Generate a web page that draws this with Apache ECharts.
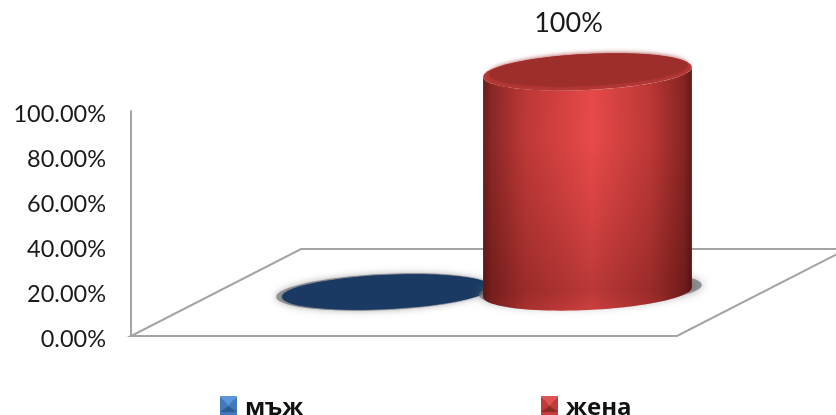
<!DOCTYPE html>
<html><head><meta charset="utf-8">
<style>html,body{margin:0;padding:0;background:#fff}#c{width:836px;height:415px}</style>
<script src="https://cdn.jsdelivr.net/npm/echarts@6/dist/echarts.min.js"></script>
</head><body><div id="c"></div>
<script>
const categories = ['мъж', 'жена'];
const maleValues = [[0, 0]];
const femaleValues = [[1, 100]];
const femaleLabel = '100%';

const LINE = '#a4a4a4';
const DEPTH = [170, -87];
const RY = 18, RATIO = 0.52, TILT = -2.7 * Math.PI / 180;

function ell(cx, cy, rx, ry, t) {
  return [cx + rx * Math.cos(t) * Math.cos(TILT) - ry * Math.sin(t) * Math.sin(TILT),
          cy + rx * Math.cos(t) * Math.sin(TILT) + ry * Math.sin(t) * Math.cos(TILT)];
}
function grad(stops, x2, y2) {
  return new echarts.graphic.LinearGradient(0, 0, x2, y2, stops.map(s => ({offset: s[0], color: s[1]})));
}
function makeCylinder(colors, labelText) {
  return function (params, api) {
    const base = api.coord([api.value(0), 0]);
    const top = api.coord([api.value(0), api.value(1)]);
    const rx = api.size([1, 0])[0] * RATIO;
    const cx = base[0], by = base[1], ty = top[1];
    const kids = [];
    const rot = -TILT;
    const disc = (x, y, a, b, style) => ({type: 'ellipse', x, y, rotation: rot,
      shape: {cx: 0, cy: 0, rx: a, ry: b}, style});
    if (by - ty > 1) {
      kids.push(disc(cx + 3, by - 2, rx + 7, RY - 1, {fill: 'rgba(110,110,110,0.7)', shadowBlur: 9, shadowColor: 'rgba(110,110,110,0.8)'}));
      const pts = [];
      for (let i = 0; i <= 48; i++) pts.push(ell(cx, by, rx, RY, Math.PI - Math.PI * i / 48));
      for (let i = 0; i <= 48; i++) pts.push(ell(cx, ty, rx, RY, Math.PI * i / 48));
      kids.push({type: 'polygon', shape: {points: pts}, style: {fill: grad(colors.body, 1, 0)}});
      kids.push({type: 'polygon', shape: {points: pts}, style: {fill: grad(colors.shade, 0, 1)}});
      kids.push(disc(cx, ty, rx, RY, {fill: colors.rim}));
      kids.push(disc(cx + 1, ty - 2, rx - 5, RY - 2, {fill: colors.top, shadowBlur: 5, shadowColor: colors.top}));
    } else {
      kids.push(disc(cx - 3, by, rx + 3, RY, {fill: 'rgba(120,120,120,0.7)', shadowBlur: 7, shadowColor: 'rgba(120,120,120,0.8)'}));
      kids.push(disc(cx, by, rx, RY - 1, {fill: colors.top, shadowBlur: 1.5, shadowColor: colors.top}));
    }
    if (labelText) {
      kids.push({type: 'text', x: cx - 19, y: ty - 49, style: {text: labelText, fill: '#1a1a1a',
        font: '27px Lato', align: 'center', verticalAlign: 'middle'}});
    }
    return {type: 'group', children: kids};
  };
}
const blue = {top: '#1b3a63', rim: '#1b3a63', body: [[0, '#1b3a63'], [1, '#1b3a63']], shade: [[0, 'rgba(0,0,0,0)'], [1, 'rgba(0,0,0,0)']]};
const red = {
  top: '#9e2e2c', rim: '#b83836',
  body: [[0, '#6a1c1b'], [0.04, '#8a2725'], [0.2, '#bd3836'], [0.52, '#e84a49'], [0.8, '#bd3836'], [0.96, '#872523'], [1, '#631a19']],
  shade: [[0, 'rgba(40,0,0,0.02)'], [0.3, 'rgba(40,0,0,0)'], [0.6, 'rgba(40,0,0,0.1)'], [0.92, 'rgba(40,0,0,0.24)'], [1, 'rgba(40,0,0,0.14)']]
};
function legendItem(name, color, left) {
  return {left, top: 391, orient: 'horizontal', itemWidth: 17, itemHeight: 16, itemGap: 0,
    selectedMode: false,
    data: [{name, icon: 'rect', itemStyle: {color}}],
    textStyle: {fontFamily: 'Open Sans', fontWeight: 'bold', fontSize: 24, color: '#111', padding: [3, 0, 0, 3]}};
}
// bevelled legend swatch, drawn over the legend icon
function bevel(x, y, c) {
  const w = 17, h = 16, m = [w / 2, h * 0.62];
  const tri = (pts, fill) => ({type: 'polygon', x, y, z: 100, silent: true, shape: {points: pts}, style: {fill}});
  return [
    tri([[0, 0], [w, 0], m], c.top),
    tri([[0, 0], [0, h], m], c.left),
    tri([[w, 0], [w, h], m], c.right),
    tri([[0, h], [w, h], m], c.bottom)
  ];
}
const option = {
  animation: false,
  backgroundColor: '#fff',
  legend: [
    legendItem(categories[0], '#3f78bd', 215),
    legendItem(categories[1], '#c93e3c', 536)
  ],
  graphic: bevel(220, 396, {top: '#5a96da', left: '#4179bb', right: '#4179bb', bottom: '#2d5c92'})
    .concat(bevel(541, 396, {top: '#de5452', left: '#bf3a38', right: '#bf3a38', bottom: '#8c2b29'})),
  grid: [
    {left: 131, top: 111, width: 546, height: 225},
    {left: 286, top: 72, width: 402, height: 220}
  ],
  xAxis: [
    {gridIndex: 0, type: 'value', min: 0, max: 1, show: false},
    {gridIndex: 1, type: 'category', data: categories, show: false}
  ],
  yAxis: [
    {gridIndex: 0, type: 'value', min: 0, max: 100, interval: 20,
      axisLine: {show: true, lineStyle: {color: LINE, width: 2}},
      axisTick: {show: false}, splitLine: {show: false},
      axisLabel: {margin: 25, color: '#1a1a1a', fontFamily: 'Lato', fontSize: 23.5, verticalAlign: 'top', lineHeight: 6,
        formatter: v => v.toFixed(2) + '%'}},
    {gridIndex: 1, type: 'value', min: 0, max: 100, show: false}
  ],
  series: [
    {type: 'custom', name: 'floor', xAxisIndex: 0, yAxisIndex: 0, silent: true, clip: false, z: 1,
      data: [[0, 0]],
      renderItem(params, api) {
        const a = api.coord([0, 0]), b = api.coord([1, 0]);
        return {type: 'polygon', shape: {points: [a, b, [b[0] + DEPTH[0], b[1] + DEPTH[1]], [a[0] + DEPTH[0], a[1] + DEPTH[1]]]},
          style: {fill: '#fff', stroke: LINE, lineWidth: 2}};
      }},
    {type: 'custom', name: categories[0], xAxisIndex: 1, yAxisIndex: 1, clip: false, z: 2,
      encode: {x: 0, y: 1}, data: maleValues, itemStyle: {color: '#3f78bd'}, renderItem: makeCylinder(blue, '')},
    {type: 'custom', name: categories[1], xAxisIndex: 1, yAxisIndex: 1, clip: false, z: 3,
      encode: {x: 0, y: 1}, data: femaleValues, itemStyle: {color: '#c93e3c'}, renderItem: makeCylinder(red, femaleLabel)}
  ]
};
echarts.init(document.getElementById('c')).setOption(option);
</script></body></html>
